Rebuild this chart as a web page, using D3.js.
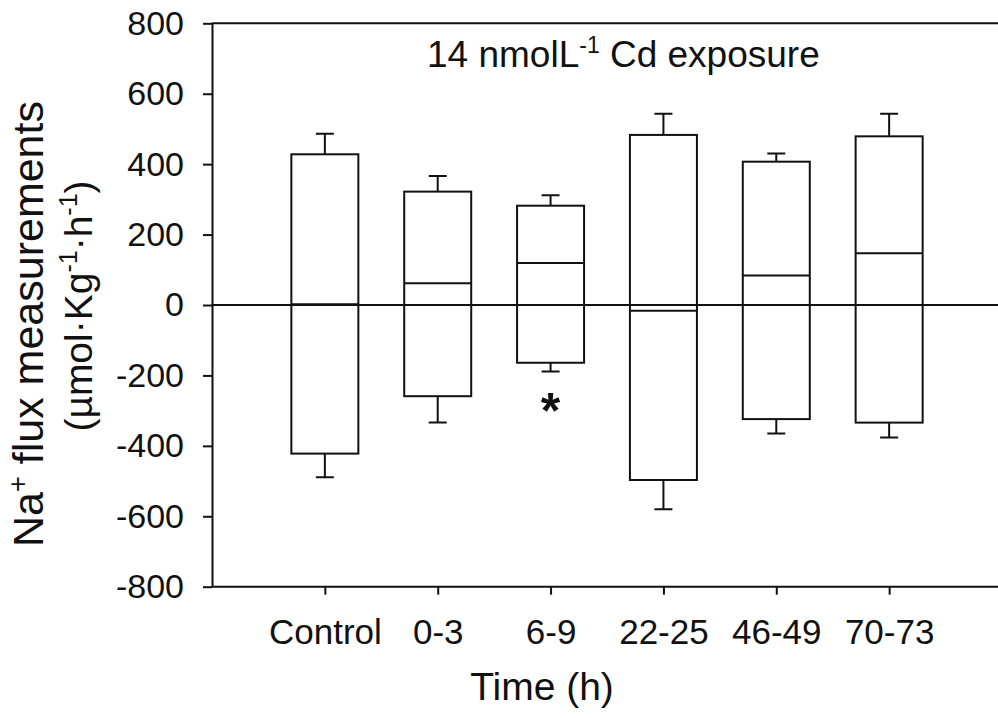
<!DOCTYPE html>
<html lang="en">
  <script src="https://d3js.org/d3.v7.min.js"></script>
  <style>
    body {
      margin: 0;
      background: #fff;
    }
    text {
      font-family: "Liberation Sans", Arial, sans-serif;
      fill: #111;
    }
  </style>
  <body>
    <svg width="998" height="718"></svg>
    <script>
      // categories and values (umol/kg/h)
      const categories = ["Control", "0-3", "6-9", "22-25", "46-49", "70-73"];
      const influx = [428, 322, 282, 483, 407, 479];
      const influxErr = [58, 44, 30, 60, 23, 64];
      const efflux = [-422, -259, -164, -497, -324, -334];
      const effluxErr = [67, 75, 25, 83, 41, 42];
      const net = [2, 62, 119, -16, 84, 147];
      const signif = ["", "", "*", "", "", ""];
      const yTicks = [-800, -600, -400, -200, 0, 200, 400, 600, 800];

      const plotLeft = 212,
        plotRight = 1002,
        plotTop = 23.3,
        plotBottom = 586.7;

      const svg = d3.select("svg");

      var x = d3.scalePoint().domain(categories).range([plotLeft, plotRight]).padding(1);
      var y = d3.scaleLinear().domain([-800, 800]).range([plotBottom, plotTop]);

      const barW = 67;
      const capW = 18;

      const rows = categories.map(function (c, i) {
        return {
          cat: c,
          inf: influx[i],
          infErr: influxErr[i],
          eff: efflux[i],
          effErr: effluxErr[i],
          net: net[i],
          sig: signif[i],
        };
      });

      // top frame line
      svg
        .append("line")
        .attr("x1", plotLeft)
        .attr("x2", 998)
        .attr("y1", plotTop)
        .attr("y2", plotTop)
        .attr("stroke", "#111")
        .attr("stroke-width", 2);

      const g = svg.append("g");

      // error bars (drawn first, boxes over them)
      g.selectAll(".errUp")
        .data(rows)
        .enter()
        .append("path")
        .attr("fill", "none")
        .attr("stroke", "#111")
        .attr("stroke-width", 2)
        .attr("d", function (d) {
          const cx = x(d.cat);
          const y0 = y(d.inf),
            y1 = y(d.inf + d.infErr);
          return (
            "M" + cx + "," + y0 + "V" + y1 +
            "M" + (cx - capW / 2) + "," + y1 + "H" + (cx + capW / 2)
          );
        });

      g.selectAll(".errDown")
        .data(rows)
        .enter()
        .append("path")
        .attr("fill", "none")
        .attr("stroke", "#111")
        .attr("stroke-width", 2)
        .attr("d", function (d) {
          const cx = x(d.cat);
          const y0 = y(d.eff),
            y1 = y(d.eff - d.effErr);
          return (
            "M" + cx + "," + y0 + "V" + y1 +
            "M" + (cx - capW / 2) + "," + y1 + "H" + (cx + capW / 2)
          );
        });

      // influx boxes
      g.selectAll(".inf")
        .data(rows)
        .enter()
        .append("rect")
        .attr("x", (d) => x(d.cat) - barW / 2)
        .attr("width", barW)
        .attr("y", (d) => y(d.inf))
        .attr("height", (d) => y(0) - y(d.inf))
        .attr("fill", "#fff")
        .attr("stroke", "#111")
        .attr("stroke-width", 2);

      // efflux boxes
      g.selectAll(".eff")
        .data(rows)
        .enter()
        .append("rect")
        .attr("x", (d) => x(d.cat) - barW / 2)
        .attr("width", barW)
        .attr("y", y(0))
        .attr("height", (d) => y(d.eff) - y(0))
        .attr("fill", "#fff")
        .attr("stroke", "#111")
        .attr("stroke-width", 2);

      // zero line
      svg
        .append("line")
        .attr("x1", plotLeft)
        .attr("x2", 998)
        .attr("y1", y(0))
        .attr("y2", y(0))
        .attr("stroke", "#111")
        .attr("stroke-width", 2);

      // net flux lines
      g.selectAll(".net")
        .data(rows)
        .enter()
        .append("line")
        .attr("x1", (d) => x(d.cat) - barW / 2)
        .attr("x2", (d) => x(d.cat) + barW / 2)
        .attr("y1", (d) => y(d.net))
        .attr("y2", (d) => y(d.net))
        .attr("stroke", "#111")
        .attr("stroke-width", 2);

      // significance marks
      g.selectAll(".sig")
        .data(rows.filter((d) => d.sig))
        .enter()
        .append("text")
        .attr("x", (d) => x(d.cat))
        .attr("y", (d) => y(d.eff - d.effErr) + 56)
        .attr("text-anchor", "middle")
        .attr("font-size", 50)
        .attr("font-weight", "bold")
        .text((d) => d.sig);

      // axes
      const yAxis = svg
        .append("g")
        .attr("transform", "translate(" + plotLeft + ",0)")
        .call(
          d3
            .axisLeft(y)
            .tickValues(yTicks)
            .tickFormat((d) => String(d))
            .tickSize(9)
            .tickSizeOuter(0)
            .tickPadding(19)
        );
      const xAxis = svg
        .append("g")
        .attr("transform", "translate(0," + plotBottom + ")")
        .call(d3.axisBottom(x).tickSize(8).tickSizeOuter(0).tickPadding(24));

      [yAxis, xAxis].forEach(function (a) {
        a.select(".domain").attr("stroke", "#111").attr("stroke-width", 2);
        a.selectAll(".tick line").attr("stroke", "#111").attr("stroke-width", 2);
        a.selectAll(".tick text")
          .attr("font-size", 34)
          .attr("font-family", "'Liberation Sans', Arial, sans-serif")
          .attr("fill", "#111");
      });
      xAxis.selectAll(".tick text").attr("font-size", 35);
      // extend bottom line to the right edge
      xAxis.select(".domain").attr("d", "M" + plotLeft + ",0H998");

      // axis titles
      svg
        .append("text")
        .attr("x", 542)
        .attr("y", 700)
        .attr("text-anchor", "middle")
        .attr("font-size", 39)
        .text("Time (h)");

      const yt1 = svg
        .append("text")
        .attr("transform", "translate(43,324) rotate(-90)")
        .attr("text-anchor", "middle")
        .attr("font-size", 43);
      yt1.append("tspan").text("Na");
      yt1.append("tspan").attr("font-size", 27).attr("dy", -16).text("+");
      yt1.append("tspan").attr("dy", 16).text(" flux measurements");

      const yt2 = svg
        .append("text")
        .attr("transform", "translate(92,306) rotate(-90)")
        .attr("text-anchor", "middle")
        .attr("font-size", 39);
      yt2.append("tspan").text("(µmol·Kg");
      yt2.append("tspan").attr("font-size", 25).attr("dy", -15).text("-1");
      yt2.append("tspan").attr("dy", 15).text("·h");
      yt2.append("tspan").attr("font-size", 25).attr("dy", -15).text("-1");
      yt2.append("tspan").attr("dy", 15).text(")");

      // inset label
      const lab = svg
        .append("text")
        .attr("x", 427)
        .attr("y", 67)
        .attr("font-size", 37);
      lab.append("tspan").text("14 nmolL");
      lab.append("tspan").attr("font-size", 23).attr("dy", -14).text("-1");
      lab.append("tspan").attr("dy", 14).text(" Cd exposure");
    </script>
  </body>
</html>
